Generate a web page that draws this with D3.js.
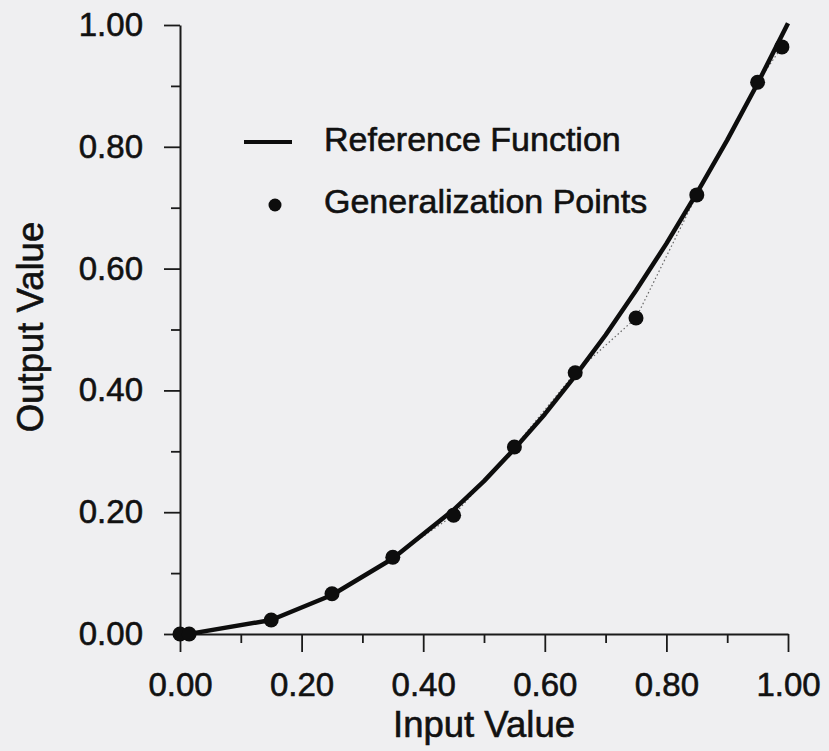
<!DOCTYPE html>
<html>
<head>
<meta charset="utf-8">
<script src="https://cdn.jsdelivr.net/npm/d3@7"></script>
<style>
  body { margin: 0; background: #efeff1; }
  svg { display: block; font-family: "Liberation Sans", Arial, sans-serif; }
</style>
</head>
<body>
<svg id="chart" width="829" height="751"></svg>
<script>
// reference curve
var curveX = [0.00, 0.02, 0.15, 0.25, 0.35, 0.45, 0.50, 0.55, 0.60, 0.65, 0.70, 0.75, 0.80, 0.85, 0.90, 0.95, 1.00];
var curveY = [0.000, 0.001, 0.023, 0.064, 0.124, 0.204, 0.251, 0.304, 0.361, 0.424, 0.491, 0.564, 0.641, 0.724, 0.811, 0.904, 1.003];

// generalization points
var pointX = [0.00, 0.015, 0.15, 0.25, 0.35, 0.45, 0.55, 0.65, 0.75, 0.85, 0.95, 0.99];
var pointY = [0.000, 0.000, 0.023, 0.066, 0.126, 0.195, 0.307, 0.429, 0.519, 0.721, 0.906, 0.964];

var majorTicks = [0, 0.2, 0.4, 0.6, 0.8, 1.0];
var minorTicks = [0.1, 0.3, 0.5, 0.7, 0.9];
var legendLabels = ["Reference Function", "Generalization Points"];

var svg = d3.select("#chart");
var x = d3.scaleLinear().domain([0, 1]).range([180, 788]);
var y = d3.scaleLinear().domain([0, 1]).range([634, 25]);

var curve = curveX.map(function(v, i) { return [v, curveY[i]]; });
var pts = pointX.map(function(v, i) { return [v, pointY[i]]; });

// minor ticks
svg.append("g").attr("transform", "translate(0,634)")
  .call(d3.axisBottom(x).tickValues(minorTicks).tickSize(9).tickFormat(""))
  .call(function(g) { g.select(".domain").remove(); });
svg.append("g").attr("transform", "translate(180,0)")
  .call(d3.axisLeft(y).tickValues(minorTicks).tickSize(9).tickFormat(""))
  .call(function(g) { g.select(".domain").remove(); });

// major axes
var xAxis = svg.append("g").attr("transform", "translate(0,634)")
  .call(d3.axisBottom(x).tickValues(majorTicks).tickSize(18).tickSizeOuter(0).tickPadding(21).tickFormat(d3.format(".2f")));
var yAxis = svg.append("g").attr("transform", "translate(180,0)")
  .call(d3.axisLeft(y).tickValues(majorTicks).tickSize(16).tickSizeOuter(0).tickPadding(21).tickFormat(d3.format(".2f")));

svg.selectAll(".tick line").attr("stroke", "#1a1a1a").attr("stroke-width", 1.8);
svg.selectAll(".domain").attr("stroke", "#1a1a1a").attr("stroke-width", 2);
svg.selectAll(".tick text").attr("font-size", 33).attr("fill", "#111")
  .attr("stroke", "#111").attr("stroke-width", 0.6)
  .attr("font-family", "Liberation Sans, Arial, sans-serif");

// axis titles
svg.append("text").attr("x", 484).attr("y", 737).attr("text-anchor", "middle")
  .attr("font-size", 36.5).attr("fill", "#111").attr("stroke", "#111").attr("stroke-width", 0.6)
  .text("Input Value");
svg.append("text").attr("transform", "translate(43,327) rotate(-90)").attr("text-anchor", "middle")
  .attr("font-size", 36.5).attr("fill", "#111").attr("stroke", "#111").attr("stroke-width", 0.6)
  .text("Output Value");

// dotted connector through points
svg.append("path").datum(pts)
  .attr("d", d3.line().x(function(d) { return x(d[0]); }).y(function(d) { return y(d[1]); }))
  .attr("fill", "none").attr("stroke", "#666").attr("stroke-width", 1.2)
  .attr("stroke-dasharray", "1.5,2.5");

// reference function
svg.append("path").datum(curve)
  .attr("d", d3.line().x(function(d) { return x(d[0]); }).y(function(d) { return y(d[1]); }))
  .attr("fill", "none").attr("stroke", "#0d0d0d").attr("stroke-width", 4.5)
  .attr("stroke-linejoin", "round");

// points
svg.selectAll("circle.pt").data(pts).enter().append("circle").attr("class", "pt")
  .attr("cx", function(d) { return x(d[0]); })
  .attr("cy", function(d) { return y(d[1]); })
  .attr("r", 7.5).attr("fill", "#0d0d0d");

// legend
svg.append("line").attr("x1", 244).attr("x2", 292).attr("y1", 142).attr("y2", 142)
  .attr("stroke", "#0d0d0d").attr("stroke-width", 4);
svg.append("circle").attr("cx", 275).attr("cy", 205).attr("r", 6.5).attr("fill", "#0d0d0d");
svg.selectAll("text.leg").data(legendLabels).enter().append("text").attr("class", "leg")
  .attr("x", 324).attr("y", function(d, i) { return 151 + i * 62; })
  .attr("font-size", 34).attr("fill", "#111").attr("stroke", "#111").attr("stroke-width", 0.6)
  .text(function(d) { return d; });
</script>
</body>
</html>
